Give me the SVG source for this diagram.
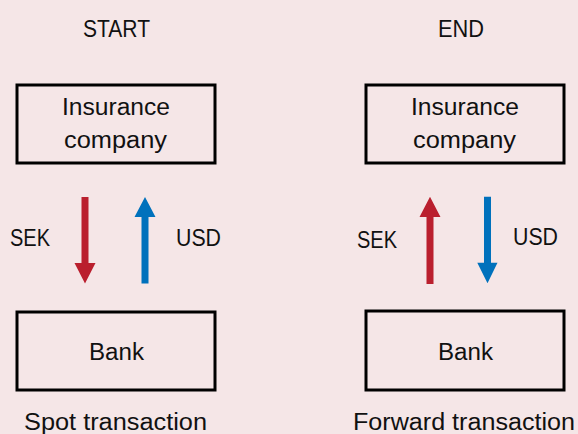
<svg xmlns="http://www.w3.org/2000/svg" width="578" height="434" viewBox="0 0 578 434">
<style>
text{font-family:"Liberation Sans",Arial,sans-serif;font-size:23px;fill:#111}
.lbl{font-size:24px}
.box{fill:none;stroke:#000;stroke-width:3}
.red{fill:#BA1F2E}
.blue{fill:#0071BC}
</style>
<rect width="578" height="434" fill="#F5E6E7"/>
<text x="83" y="37" textLength="67" lengthAdjust="spacingAndGlyphs">START</text>
<text x="438" y="37" textLength="46" lengthAdjust="spacingAndGlyphs">END</text>
<g id="ins-left">
<rect class="box" x="17" y="85" width="198" height="78"/>
<text x="62" y="115" textLength="108" lengthAdjust="spacingAndGlyphs">Insurance</text>
<text x="64" y="148" textLength="103" lengthAdjust="spacingAndGlyphs">company</text>
</g>
<g id="bank-left">
<rect class="box" x="17" y="312" width="198" height="78"/>
<text x="89" y="360" textLength="55" lengthAdjust="spacingAndGlyphs">Bank</text>
</g>
<g id="ins-right">
<rect class="box" x="366" y="85" width="198" height="78"/>
<text x="411" y="115" textLength="108" lengthAdjust="spacingAndGlyphs">Insurance</text>
<text x="413" y="148" textLength="103" lengthAdjust="spacingAndGlyphs">company</text>
</g>
<g id="bank-right">
<rect class="box" x="366" y="311" width="198" height="79"/>
<text x="438" y="360" textLength="55" lengthAdjust="spacingAndGlyphs">Bank</text>
</g>
<g id="connectors">
<polygon class="red" points="81.5,197 88.5,197 88.5,263 95.5,263 85,283.5 74.5,263 81.5,263"/>
<polygon class="blue" points="145,197 155.5,217 148.5,217 148.5,283.5 141.5,283.5 141.5,217 134.5,217"/>
<polygon class="red" points="430,196.7 440.5,217 433.5,217 433.5,284 426.5,284 426.5,217 419.5,217"/>
<polygon class="blue" points="484,196.7 491,196.7 491,262.7 497.5,262.7 487.5,283.3 477.3,262.7 484,262.7"/>
</g>
<text class="lbl" x="10" y="246" textLength="40" lengthAdjust="spacingAndGlyphs">SEK</text>
<text class="lbl" x="176" y="246" textLength="45" lengthAdjust="spacingAndGlyphs">USD</text>
<text class="lbl" x="357" y="248" textLength="40" lengthAdjust="spacingAndGlyphs">SEK</text>
<text class="lbl" x="513" y="245" textLength="45" lengthAdjust="spacingAndGlyphs">USD</text>
<text x="24" y="430" textLength="183" lengthAdjust="spacingAndGlyphs">Spot transaction</text>
<text x="353" y="430" textLength="222" lengthAdjust="spacingAndGlyphs">Forward transaction</text>
</svg>
